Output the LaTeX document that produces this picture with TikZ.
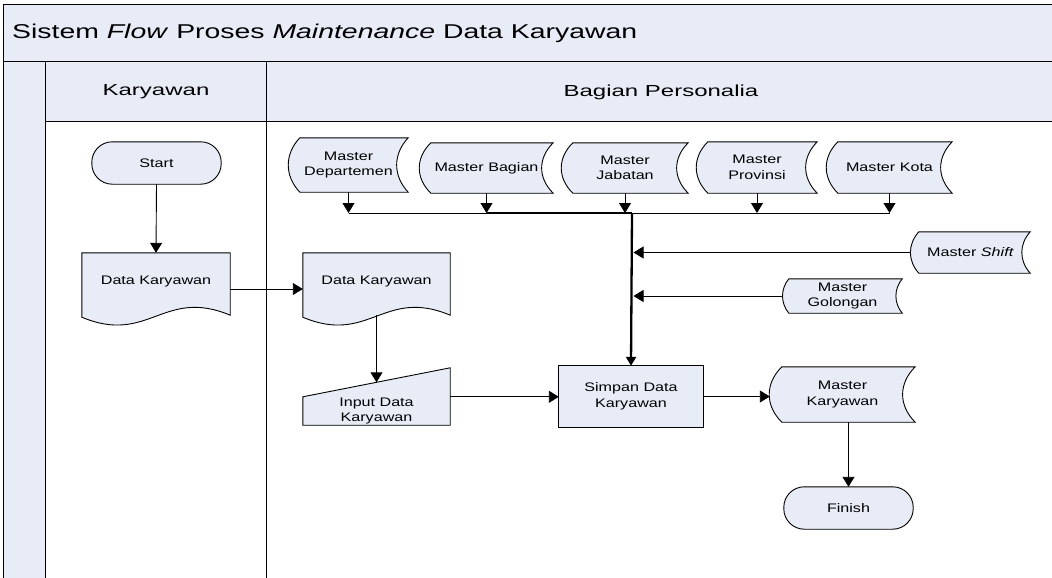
\documentclass[tikz,border=0pt]{standalone}
\usepackage{fontspec}
\setmainfont{Liberation Sans}
\newfontfamily\titlefontfam[FakeStretch=1.42]{Liberation Sans}
\newfontfamily\headfontfam[FakeStretch=1.5]{Liberation Sans}
\newfontfamily\nodefontfam[FakeStretch=1.3]{Liberation Sans}
\newcommand\mytitlefont{\titlefontfam\fontsize{20}{24}\selectfont}
\newcommand\myheadfont{\headfontfam\fontsize{16}{19}\selectfont}
\newcommand\mynodefont{\nodefontfam\fontsize{12.4}{15.5}\selectfont}
\usetikzlibrary{arrows.meta,calc}
\definecolor{flowblue}{RGB}{231,236,247}
\pgfdeclarelayer{lanes}
\pgfdeclarelayer{shapes}
\pgfsetlayers{lanes,shapes,main}
% stored data shape: #1 node name, #2 bulge depth
\newcommand\drawstored[2]{%
  \begin{pgfonlayer}{shapes}
  \path[shapestyle] ($(#1.north west)+(#2,0)$) -- (#1.north east)
    .. controls ($(#1.north east)!0.3!(#1.south east)+(-1.4*#2,0)$) and ($(#1.north east)!0.7!(#1.south east)+(-1.4*#2,0)$) .. (#1.south east)
    -- ($(#1.south west)+(#2,0)$)
    .. controls ($(#1.south west)!0.3!(#1.north west)+(-0.4*#2,0)$) and ($(#1.south west)!0.7!(#1.north west)+(-0.4*#2,0)$) .. cycle;
  \end{pgfonlayer}}
% document shape
\newcommand\drawdoc[1]{%
  \begin{pgfonlayer}{shapes}
  \path[shapestyle] ($(#1.south west)+(0,2)$) -- (#1.north west) -- (#1.north east) -- (#1.south east)
    .. controls ($(#1.south west)!0.55!(#1.south east)+(0,-28)$) and ($(#1.south west)!0.45!(#1.south east)+(0,30)$) .. ($(#1.south west)+(0,2)$) -- cycle;
  \end{pgfonlayer}}
\newcommand\drawterm[1]{%
  \begin{pgfonlayer}{shapes}
  \path[shapestyle, rounded corners=20.5pt] (#1.south west) rectangle (#1.north east);
  \end{pgfonlayer}}
\newcommand\drawbox[1]{%
  \begin{pgfonlayer}{shapes}
  \path[shapestyle] (#1.south west) rectangle (#1.north east);
  \end{pgfonlayer}}
\begin{document}
\begin{tikzpicture}[x=1pt,y=-1pt,
  shapestyle/.style={fill=flowblue, draw=black, line width=0.9pt},
  frameline/.style={draw=black, line width=1pt},
  conn/.style={draw=black, line width=0.9pt},
  tip/.style={-{Triangle[length=10pt,width=12pt]}},
  arr/.style={conn, tip},
  txt/.style={font=\mynodefont, align=center, inner sep=0pt},
  doctxt/.style={txt, text height=9pt, text depth=8.2pt}]
\useasboundingbox (0,0) rectangle (1052,578);
\begin{pgfonlayer}{lanes}
  \fill[white] (0,0) rectangle (1052,578);
  \fill[flowblue] (3,5) rectangle (1052,62);
  \fill[flowblue] (45,62) rectangle (1052,121);
  \fill[flowblue] (3,62) rectangle (45,578);
  \draw[frameline] (1052,5) -- (3,5) -- (3,578);
  \draw[frameline] (3,62) -- (1052,62);
  \draw[frameline] (45,121) -- (1052,121);
  \draw[frameline] (45,62) -- (45,578);
  \draw[frameline] (266,62) -- (266,578);
\end{pgfonlayer}

% titles
\node[anchor=west, inner sep=0pt, font=\mytitlefont] (title) at (12,33) {Sistem \textit{Flow} Proses \textit{Maintenance} Data Karyawan};
\node[inner sep=0pt, font=\myheadfont] (hkar) at (156,92) {Karyawan};
\node[inner sep=0pt, font=\myheadfont] (hbag) at (661,92) {Bagian Personalia};

% nodes
\node[txt, minimum width=129pt, minimum height=42pt] (start) at (156.5,163) {Start};
\drawterm{start}
\node[doctxt, minimum width=148pt, minimum height=62pt] (ldoc) at (156,284) {Data Karyawan};
\drawdoc{ldoc}
\node[doctxt, minimum width=147pt, minimum height=62pt] (rdoc) at (376.5,284) {Data Karyawan};
\drawdoc{rdoc}
\node[txt, minimum width=147pt, minimum height=28pt] (input) at (376.5,411) {Input Data\\Karyawan};
\begin{pgfonlayer}{shapes}
  \path[shapestyle] (input.south west) -- (input.north west) -- ($(input.north east)+(0,-29)$) -- (input.south east) -- cycle;
\end{pgfonlayer}
\node[txt, minimum width=144pt, minimum height=61pt] (simpan) at (631,396.5) {Simpan Data\\Karyawan};
\drawbox{simpan}
\node[txt, minimum width=145pt, minimum height=55pt] (mk) at (842.5,394.5) {Master\\Karyawan};
\drawstored{mk}{12}
\node[txt, minimum width=129pt, minimum height=42pt] (finish) at (848.5,508) {Finish};
\drawterm{finish}

\node[txt, minimum width=119pt, minimum height=54pt] (mdep) at (348.5,165) {Master\\Departemen};
\drawstored{mdep}{11}
\node[txt, minimum width=133pt, minimum height=50pt] (mbag) at (486.5,168) {Master Bagian};
\drawstored{mbag}{11}
\node[txt, minimum width=126pt, minimum height=50pt] (mjab) at (625,168) {Master\\Jabatan};
\drawstored{mjab}{11}
\node[txt, minimum width=120pt, minimum height=51pt] (mprov) at (757,167.5) {Master\\Provinsi};
\drawstored{mprov}{11}
\node[txt, minimum width=125pt, minimum height=51pt] (mkota) at (889.5,167.5) {Master Kota};
\drawstored{mkota}{11}
\node[txt, minimum width=119pt, minimum height=41pt] (mshift) at (970.5,252.5) {Master \textit{Shift}};
\drawstored{mshift}{8}
\node[txt, minimum width=119pt, minimum height=34pt] (mgol) at (842.5,296) {Master\\Golongan};
\drawstored{mgol}{6}

\coordinate (bus) at (632,213);

% connectors
\draw[arr] (start.south) -- (ldoc.north);
\draw[arr] ([yshift=-5pt]ldoc.east) -- ([yshift=-5pt]rdoc.west);
\draw[arr] (rdoc.south) -- ($(input.north)+(0,-14.5)$);
\draw[arr] (input.north east) -- (input.north east -| simpan.west);
\draw[arr] (simpan.east) -- (simpan.east -| mk.west);
\draw[arr] (finish.north |- mk.south) -- (finish.north);

\draw[arr] (mdep.south) -- (mdep.south |- bus);
\draw[arr] (mbag.south) -- (mbag.south |- bus);
\draw[arr] (mjab.south) -- (mjab.south |- bus);
\draw[arr] (mprov.south) -- (mprov.south |- bus);
\draw[arr] (mkota.south) -- (mkota.south |- bus);
\draw[conn] (mdep.south |- bus) -- (mkota.south |- bus);
\draw[conn, line width=1.8pt] (mbag.south |- bus) -- (bus);
\draw[line width=2.3pt, -{Triangle[length=9pt,width=10pt]}] (bus) -- (simpan.north);
\draw[arr] (mshift.west) -- ($(mshift.west -| bus)+(1.5,0)$);
\draw[arr] (mgol.west) -- ($(mgol.west -| bus)+(1.5,0)$);
\end{tikzpicture}
\end{document}
